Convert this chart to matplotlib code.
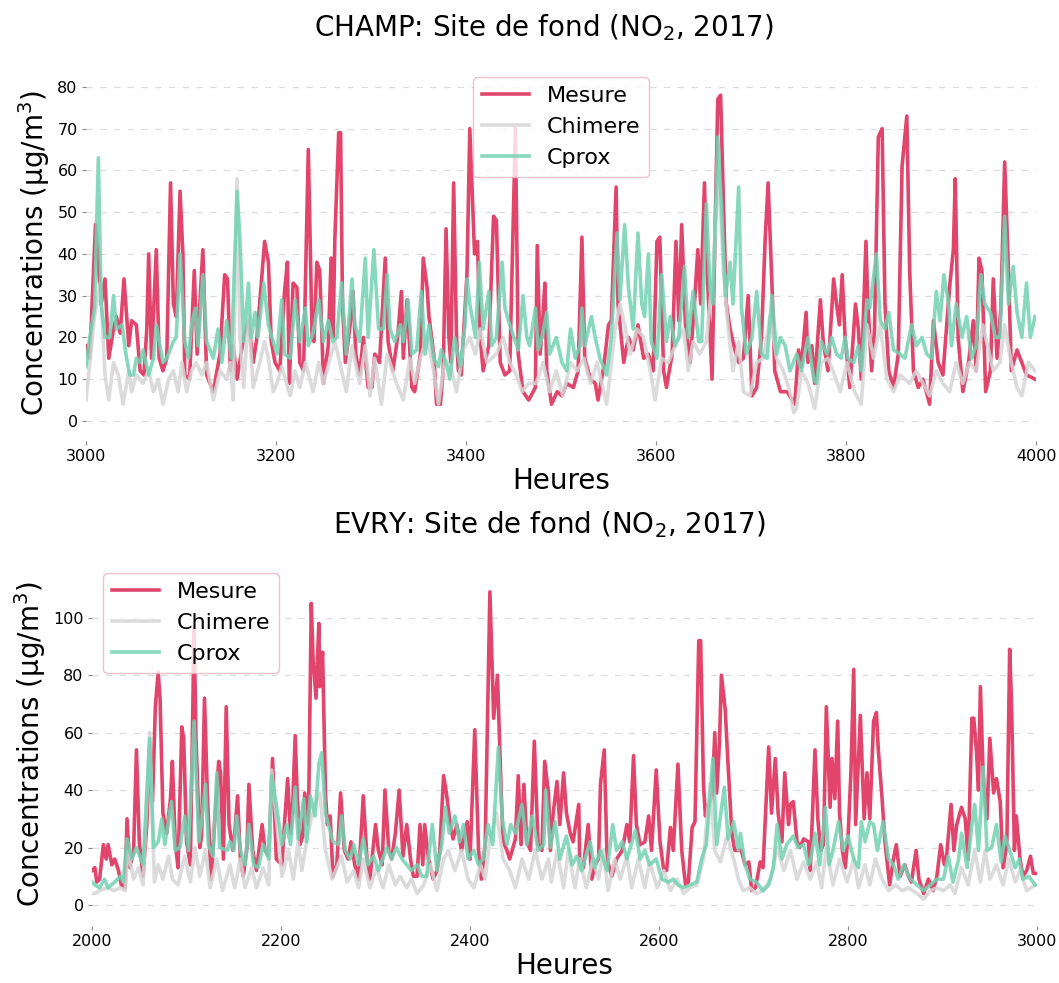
import matplotlib
matplotlib.use('Agg')
import matplotlib.pyplot as plt

plt.rcParams['font.family'] = ['DejaVu Sans']

# CHAMP, heures 3000-4000 : (heure, concentration)
champ_mesure = [
    (3000, 18), (3004, 15), (3010, 47), (3016, 28), (3020, 34), (3024, 15), (3029, 22), (3032, 25),
    (3036, 21), (3040, 34), (3045, 18), (3048, 24), (3053, 23), (3057, 12), (3061, 11), (3064, 22),
    (3066, 40), (3069, 15), (3074, 41), (3077, 15), (3081, 12), (3085, 15), (3089, 57), (3092, 28),
    (3095, 25), (3099, 55), (3102, 40), (3104, 11), (3109, 10), (3114, 36), (3117, 16), (3123, 41),
    (3127, 11), (3134, 7), (3141, 16), (3146, 35), (3149, 34), (3152, 12), (3155, 18), (3159, 10),
    (3166, 20), (3171, 24), (3176, 14), (3180, 20), (3188, 43), (3192, 38), (3195, 19), (3199, 14),
    (3204, 12), (3209, 31), (3212, 38), (3214, 9), (3218, 33), (3222, 32), (3225, 14), (3229, 12),
    (3234, 65), (3238, 20), (3240, 19), (3243, 38), (3246, 36), (3250, 9), (3255, 18), (3258, 39),
    (3260, 20), (3262, 44), (3266, 69), (3268, 69), (3270, 28), (3273, 14), (3278, 23), (3281, 31),
    (3284, 16), (3288, 11), (3292, 20), (3297, 8), (3301, 8), (3304, 16), (3309, 14), (3315, 39),
    (3318, 19), (3323, 12), (3328, 20), (3332, 31), (3334, 15), (3338, 29), (3343, 8), (3346, 7),
    (3352, 16), (3355, 39), (3359, 32), (3361, 25), (3366, 16), (3369, 4), (3373, 4), (3376, 12),
    (3379, 46), (3382, 20), (3384, 14), (3387, 57), (3390, 20), (3392, 12), (3395, 11), (3401, 35),
    (3404, 70), (3407, 52), (3409, 40), (3412, 43), (3415, 20), (3418, 12), (3424, 18), (3429, 49),
    (3432, 48), (3436, 14), (3441, 11), (3446, 12), (3452, 70), (3455, 16), (3460, 7), (3466, 5),
    (3473, 8), (3475, 42), (3478, 16), (3481, 25), (3483, 33), (3485, 12), (3490, 4), (3496, 7),
    (3501, 6), (3506, 9), (3513, 8), (3518, 12), (3522, 44), (3525, 15), (3531, 10), (3536, 9),
    (3539, 5), (3545, 13), (3550, 23), (3553, 24), (3558, 56), (3560, 28), (3566, 14), (3571, 20),
    (3576, 17), (3581, 23), (3587, 15), (3592, 16), (3597, 12), (3601, 43), (3604, 44), (3608, 12),
    (3611, 8), (3617, 16), (3621, 43), (3624, 24), (3627, 47), (3631, 23), (3636, 14), (3641, 30),
    (3644, 41), (3647, 28), (3651, 57), (3653, 40), (3659, 10), (3665, 77), (3668, 78), (3671, 52),
    (3674, 28), (3678, 22), (3683, 17), (3687, 14), (3692, 15), (3697, 30), (3701, 6), (3706, 8),
    (3711, 20), (3715, 44), (3718, 57), (3722, 33), (3725, 12), (3731, 7), (3738, 7), (3746, 4),
    (3750, 17), (3753, 13), (3758, 26), (3760, 14), (3764, 18), (3767, 9), (3773, 29), (3776, 19),
    (3781, 12), (3787, 34), (3790, 28), (3793, 23), (3796, 35), (3799, 20), (3804, 8), (3810, 28),
    (3813, 22), (3816, 10), (3821, 43), (3823, 28), (3827, 12), (3830, 22), (3834, 68), (3838, 70),
    (3841, 28), (3845, 12), (3850, 8), (3855, 16), (3859, 61), (3864, 73), (3867, 36), (3871, 12),
    (3876, 8), (3881, 10), (3888, 4), (3892, 24), (3897, 14), (3902, 11), (3909, 32), (3913, 41),
    (3915, 58), (3918, 20), (3923, 7), (3929, 14), (3934, 24), (3937, 12), (3940, 39), (3943, 36),
    (3947, 7), (3952, 12), (3955, 34), (3959, 15), (3963, 27), (3967, 62), (3971, 36), (3974, 12),
    (3980, 17), (3985, 14), (3990, 11), (3999, 10),
]

champ_chimere = [
    (3000, 5), (3009, 25), (3015, 33), (3020, 11), (3024, 5), (3029, 14), (3034, 11), (3039, 4),
    (3045, 12), (3048, 7), (3053, 11), (3060, 9), (3066, 12), (3071, 7), (3076, 10), (3081, 4),
    (3087, 10), (3092, 12), (3097, 7), (3101, 14), (3106, 7), (3111, 12), (3116, 14), (3122, 11),
    (3127, 14), (3134, 5), (3141, 12), (3148, 10), (3152, 14), (3155, 5), (3159, 58), (3162, 20),
    (3166, 8), (3171, 26), (3176, 8), (3183, 14), (3188, 19), (3192, 15), (3197, 7), (3201, 9),
    (3206, 13), (3215, 6), (3220, 12), (3225, 8), (3231, 14), (3239, 7), (3245, 14), (3250, 9),
    (3257, 15), (3262, 19), (3274, 7), (3280, 18), (3288, 9), (3294, 18), (3299, 6), (3304, 15),
    (3311, 4), (3317, 16), (3327, 9), (3334, 5), (3341, 15), (3346, 9), (3352, 15), (3359, 20),
    (3366, 12), (3371, 4), (3378, 15), (3385, 12), (3390, 7), (3397, 17), (3404, 20), (3410, 16),
    (3415, 22), (3422, 14), (3427, 15), (3432, 16), (3439, 20), (3446, 14), (3453, 11), (3459, 7),
    (3466, 9), (3474, 9), (3481, 14), (3488, 7), (3495, 12), (3502, 6), (3510, 14), (3517, 12),
    (3524, 15), (3531, 9), (3538, 14), (3548, 4), (3557, 22), (3562, 28), (3567, 23), (3573, 16),
    (3580, 22), (3587, 20), (3594, 12), (3599, 5), (3606, 15), (3613, 14), (3622, 19), (3629, 22),
    (3634, 12), (3639, 19), (3646, 16), (3653, 19), (3660, 36), (3666, 60), (3671, 36), (3676, 22),
    (3681, 12), (3687, 19), (3692, 7), (3699, 6), (3706, 14), (3713, 15), (3720, 25), (3727, 15),
    (3734, 12), (3741, 7), (3745, 2), (3748, 3), (3753, 12), (3760, 9), (3767, 3), (3774, 14),
    (3781, 15), (3788, 11), (3794, 7), (3801, 14), (3809, 7), (3816, 4), (3822, 23), (3829, 15),
    (3836, 23), (3843, 10), (3850, 7), (3857, 11), (3867, 9), (3874, 12), (3881, 9), (3888, 6),
    (3895, 12), (3902, 9), (3909, 7), (3916, 14), (3923, 9), (3930, 14), (3937, 12), (3944, 23),
    (3950, 17), (3955, 12), (3962, 14), (3967, 23), (3973, 15), (3980, 8), (3985, 6), (3992, 14),
    (3999, 12),
]

champ_cprox = [
    (3000, 13), (3004, 20), (3009, 27), (3013, 63), (3016, 28), (3020, 20), (3025, 20), (3029, 30),
    (3032, 22), (3038, 23), (3042, 16), (3046, 11), (3050, 11), (3053, 15), (3057, 14), (3060, 17),
    (3066, 11), (3071, 15), (3074, 23), (3077, 19), (3081, 14), (3085, 15), (3092, 19), (3095, 20),
    (3099, 40), (3104, 19), (3108, 15), (3111, 23), (3115, 27), (3118, 18), (3123, 35), (3127, 19),
    (3134, 15), (3139, 22), (3143, 14), (3148, 24), (3153, 15), (3159, 55), (3162, 44), (3166, 19),
    (3171, 33), (3174, 20), (3178, 26), (3181, 20), (3187, 33), (3192, 23), (3197, 19), (3201, 16),
    (3206, 29), (3209, 16), (3215, 15), (3220, 29), (3225, 19), (3231, 27), (3234, 18), (3239, 21),
    (3245, 29), (3250, 19), (3255, 24), (3260, 19), (3264, 20), (3269, 33), (3274, 16), (3280, 34),
    (3283, 23), (3288, 19), (3294, 39), (3297, 20), (3303, 41), (3308, 22), (3313, 22), (3317, 35),
    (3320, 22), (3325, 19), (3331, 23), (3334, 19), (3339, 29), (3343, 16), (3348, 17), (3353, 31),
    (3357, 16), (3361, 23), (3366, 15), (3371, 13), (3374, 17), (3380, 13), (3383, 10), (3388, 20),
    (3394, 13), (3399, 23), (3401, 34), (3404, 28), (3410, 20), (3414, 38), (3418, 22), (3424, 31),
    (3427, 18), (3432, 20), (3438, 38), (3441, 27), (3446, 23), (3452, 19), (3455, 17), (3460, 30),
    (3464, 20), (3467, 18), (3473, 27), (3476, 17), (3480, 20), (3485, 26), (3488, 16), (3495, 20),
    (3501, 14), (3506, 12), (3510, 22), (3515, 15), (3520, 18), (3522, 27), (3525, 18), (3532, 25),
    (3536, 20), (3541, 15), (3548, 11), (3553, 20), (3559, 45), (3562, 29), (3567, 47), (3571, 32),
    (3576, 22), (3581, 45), (3585, 28), (3588, 25), (3592, 40), (3595, 19), (3601, 15), (3606, 35),
    (3611, 19), (3615, 25), (3620, 18), (3624, 20), (3630, 37), (3634, 20), (3639, 31), (3645, 19),
    (3648, 19), (3653, 52), (3657, 31), (3660, 28), (3665, 68), (3669, 51), (3673, 30), (3678, 38),
    (3681, 28), (3687, 56), (3690, 27), (3695, 16), (3701, 20), (3706, 31), (3711, 16), (3717, 15),
    (3722, 30), (3727, 16), (3731, 20), (3736, 18), (3741, 12), (3748, 16), (3753, 12), (3760, 20),
    (3766, 10), (3769, 9), (3774, 19), (3780, 16), (3785, 20), (3790, 16), (3795, 15), (3799, 20),
    (3802, 15), (3808, 14), (3813, 18), (3816, 12), (3822, 29), (3825, 27), (3832, 40), (3836, 24),
    (3841, 22), (3845, 26), (3850, 17), (3857, 16), (3862, 15), (3869, 23), (3874, 18), (3880, 20),
    (3885, 16), (3890, 15), (3895, 31), (3899, 24), (3903, 35), (3908, 28), (3911, 18), (3916, 28),
    (3922, 20), (3927, 25), (3932, 15), (3937, 18), (3942, 35), (3946, 28), (3952, 26), (3957, 20),
    (3962, 20), (3967, 49), (3971, 28), (3976, 37), (3980, 26), (3985, 20), (3990, 33), (3994, 20),
    (3999, 25),
]

# EVRY, heures 2000-3000
evry_mesure = [
    (2000, 12), (2003, 13), (2005, 8), (2008, 9), (2012, 21), (2015, 16), (2017, 21), (2021, 14),
    (2024, 16), (2028, 12), (2031, 7), (2035, 6), (2037, 30), (2040, 13), (2044, 19), (2047, 54),
    (2050, 22), (2054, 10), (2058, 28), (2061, 55), (2064, 36), (2067, 69), (2070, 81), (2072, 72),
    (2075, 32), (2079, 25), (2083, 37), (2085, 50), (2088, 22), (2091, 13), (2095, 62), (2097, 58),
    (2100, 22), (2104, 14), (2108, 97), (2110, 58), (2114, 20), (2116, 24), (2119, 72), (2122, 39),
    (2126, 9), (2130, 30), (2134, 50), (2136, 46), (2139, 16), (2142, 69), (2145, 28), (2149, 19),
    (2151, 25), (2154, 38), (2157, 16), (2160, 10), (2164, 20), (2166, 42), (2170, 19), (2174, 12),
    (2180, 28), (2183, 19), (2187, 17), (2191, 51), (2195, 16), (2201, 14), (2204, 30), (2207, 44),
    (2210, 25), (2212, 32), (2215, 59), (2217, 39), (2220, 21), (2223, 24), (2225, 39), (2229, 28),
    (2232, 105), (2234, 85), (2237, 72), (2240, 98), (2241, 76), (2244, 88), (2247, 39), (2249, 28),
    (2252, 31), (2255, 10), (2259, 14), (2263, 39), (2267, 19), (2271, 16), (2274, 22), (2278, 14),
    (2282, 9), (2287, 38), (2291, 16), (2294, 9), (2300, 28), (2303, 19), (2307, 14), (2310, 40),
    (2314, 19), (2317, 16), (2321, 25), (2325, 40), (2329, 17), (2333, 28), (2337, 16), (2340, 10),
    (2344, 10), (2347, 28), (2350, 14), (2352, 28), (2356, 16), (2361, 9), (2365, 12), (2368, 19),
    (2372, 45), (2375, 39), (2379, 28), (2382, 23), (2386, 28), (2391, 19), (2397, 29), (2400, 16),
    (2405, 61), (2409, 19), (2412, 9), (2416, 21), (2421, 109), (2425, 65), (2429, 80), (2433, 39),
    (2435, 22), (2439, 19), (2442, 16), (2448, 23), (2451, 45), (2454, 21), (2457, 42), (2460, 22),
    (2464, 19), (2468, 57), (2472, 21), (2476, 19), (2479, 50), (2483, 39), (2485, 19), (2488, 32),
    (2492, 43), (2495, 28), (2499, 46), (2502, 32), (2506, 25), (2509, 22), (2515, 35), (2516, 16),
    (2520, 13), (2525, 28), (2529, 9), (2532, 14), (2536, 16), (2538, 42), (2542, 54), (2545, 16),
    (2550, 10), (2555, 16), (2561, 19), (2566, 28), (2569, 22), (2573, 52), (2576, 28), (2580, 21),
    (2585, 22), (2589, 31), (2592, 19), (2597, 47), (2601, 22), (2605, 12), (2608, 12), (2612, 27),
    (2615, 19), (2620, 49), (2624, 19), (2628, 7), (2631, 8), (2635, 27), (2638, 29), (2642, 92),
    (2644, 92), (2647, 42), (2649, 31), (2652, 35), (2656, 37), (2659, 60), (2661, 39), (2664, 57),
    (2666, 80), (2670, 68), (2673, 49), (2677, 25), (2680, 19), (2684, 19), (2687, 19), (2691, 14),
    (2695, 15), (2698, 5), (2702, 6), (2707, 15), (2710, 13), (2716, 55), (2719, 32), (2723, 51),
    (2726, 32), (2730, 22), (2733, 46), (2737, 28), (2739, 35), (2742, 36), (2746, 22), (2749, 20),
    (2753, 23), (2758, 22), (2760, 12), (2765, 54), (2768, 30), (2771, 19), (2774, 21), (2777, 69),
    (2781, 34), (2783, 51), (2786, 37), (2789, 64), (2791, 32), (2794, 19), (2797, 13), (2800, 24),
    (2803, 46), (2806, 82), (2808, 28), (2813, 66), (2817, 30), (2820, 46), (2823, 30), (2827, 64),
    (2830, 67), (2832, 54), (2836, 37), (2839, 22), (2844, 7), (2848, 16), (2851, 21), (2855, 10),
    (2860, 14), (2864, 10), (2867, 8), (2872, 19), (2875, 9), (2880, 4), (2885, 9), (2890, 5),
    (2894, 10), (2898, 21), (2902, 14), (2904, 16), (2909, 35), (2912, 19), (2915, 28), (2920, 34),
    (2924, 30), (2927, 16), (2931, 65), (2933, 65), (2936, 53), (2938, 40), (2940, 76), (2943, 45),
    (2947, 30), (2950, 58), (2954, 39), (2957, 44), (2961, 36), (2964, 13), (2968, 21), (2971, 89),
    (2973, 70), (2976, 19), (2978, 31), (2982, 16), (2985, 10), (2989, 12), (2993, 17), (2996, 11),
    (3000, 11),
]

evry_chimere = [
    (2000, 4), (2003, 4), (2008, 5), (2016, 6), (2023, 5), (2030, 6), (2035, 5), (2038, 19),
    (2044, 9), (2049, 13), (2054, 7), (2061, 60), (2066, 8), (2070, 14), (2075, 9), (2081, 17),
    (2085, 9), (2091, 7), (2098, 17), (2104, 8), (2109, 20), (2114, 10), (2120, 19), (2125, 6),
    (2132, 16), (2138, 5), (2146, 14), (2151, 6), (2157, 16), (2162, 6), (2169, 13), (2174, 6),
    (2181, 13), (2187, 7), (2190, 47), (2195, 30), (2201, 10), (2208, 19), (2213, 9), (2218, 22),
    (2222, 12), (2227, 22), (2232, 30), (2238, 37), (2241, 39), (2247, 19), (2254, 9), (2259, 13),
    (2264, 17), (2270, 8), (2277, 12), (2282, 6), (2287, 16), (2294, 6), (2301, 13), (2308, 6),
    (2314, 14), (2321, 7), (2326, 10), (2333, 6), (2338, 9), (2344, 4), (2351, 7), (2358, 14),
    (2365, 5), (2372, 16), (2377, 19), (2384, 12), (2391, 19), (2398, 9), (2404, 6), (2411, 14),
    (2416, 9), (2421, 23), (2428, 32), (2435, 16), (2442, 12), (2448, 6), (2455, 16), (2462, 9),
    (2469, 19), (2476, 9), (2483, 16), (2486, 8), (2492, 19), (2499, 6), (2504, 19), (2511, 6),
    (2516, 16), (2523, 6), (2530, 16), (2536, 9), (2541, 19), (2546, 5), (2553, 16), (2559, 9),
    (2566, 17), (2571, 6), (2578, 16), (2585, 6), (2590, 15), (2598, 6), (2605, 12), (2612, 5),
    (2619, 9), (2626, 4), (2633, 6), (2640, 7), (2647, 16), (2654, 42), (2659, 19), (2665, 15),
    (2672, 24), (2679, 16), (2684, 9), (2689, 5), (2696, 6), (2703, 4), (2710, 5), (2718, 9),
    (2725, 20), (2732, 12), (2739, 19), (2746, 9), (2753, 15), (2760, 9), (2767, 15), (2772, 6),
    (2777, 20), (2784, 7), (2791, 16), (2799, 8), (2806, 16), (2811, 6), (2818, 14), (2823, 7),
    (2829, 16), (2836, 9), (2843, 5), (2850, 7), (2857, 5), (2864, 6), (2873, 4), (2880, 2),
    (2887, 5), (2894, 6), (2901, 5), (2908, 7), (2913, 4), (2920, 13), (2927, 7), (2934, 19),
    (2940, 8), (2945, 19), (2950, 9), (2957, 14), (2964, 7), (2970, 16), (2977, 8), (2982, 12),
    (2989, 5), (2998, 7),
]

evry_cprox = [
    (2000, 8), (2003, 7), (2008, 6), (2013, 9), (2017, 6), (2024, 8), (2030, 10), (2033, 8),
    (2037, 23), (2042, 16), (2047, 20), (2054, 14), (2061, 58), (2065, 20), (2070, 22), (2074, 30),
    (2077, 21), (2084, 36), (2088, 19), (2093, 20), (2098, 31), (2102, 19), (2108, 64), (2113, 22),
    (2116, 29), (2120, 42), (2123, 21), (2128, 17), (2132, 46), (2135, 20), (2143, 19), (2146, 22),
    (2150, 19), (2153, 31), (2157, 19), (2162, 14), (2166, 28), (2171, 14), (2176, 13), (2181, 21),
    (2187, 16), (2190, 45), (2195, 35), (2201, 21), (2206, 28), (2210, 21), (2215, 41), (2218, 23),
    (2224, 37), (2227, 22), (2231, 38), (2236, 31), (2240, 49), (2243, 53), (2247, 32), (2250, 28),
    (2255, 22), (2261, 21), (2264, 31), (2268, 19), (2273, 16), (2277, 21), (2282, 14), (2287, 23),
    (2292, 14), (2298, 17), (2303, 12), (2312, 20), (2317, 16), (2322, 20), (2328, 16), (2333, 14),
    (2338, 12), (2344, 14), (2349, 10), (2354, 10), (2360, 28), (2365, 12), (2370, 21), (2374, 34),
    (2378, 25), (2384, 31), (2389, 22), (2393, 28), (2398, 16), (2404, 19), (2409, 14), (2414, 16),
    (2419, 28), (2424, 21), (2430, 55), (2434, 30), (2439, 21), (2443, 28), (2448, 25), (2455, 35),
    (2460, 21), (2466, 31), (2472, 19), (2478, 21), (2480, 40), (2485, 20), (2490, 29), (2495, 16),
    (2502, 24), (2508, 14), (2513, 17), (2518, 12), (2527, 22), (2532, 13), (2538, 19), (2545, 12),
    (2551, 28), (2555, 19), (2561, 22), (2566, 16), (2575, 26), (2580, 16), (2585, 19), (2590, 14),
    (2597, 16), (2603, 9), (2610, 8), (2615, 9), (2620, 7), (2626, 6), (2633, 7), (2640, 8),
    (2645, 16), (2650, 21), (2657, 51), (2661, 21), (2669, 41), (2673, 23), (2679, 29), (2684, 19),
    (2686, 25), (2691, 14), (2696, 9), (2703, 8), (2710, 5), (2716, 7), (2721, 13), (2725, 28),
    (2730, 16), (2735, 21), (2742, 24), (2747, 20), (2753, 21), (2758, 14), (2760, 15), (2765, 25),
    (2770, 14), (2776, 34), (2780, 14), (2784, 19), (2790, 29), (2795, 19), (2800, 24), (2806, 16),
    (2811, 13), (2814, 29), (2818, 22), (2823, 29), (2827, 28), (2831, 19), (2837, 29), (2843, 16),
    (2848, 14), (2853, 9), (2859, 14), (2866, 9), (2873, 7), (2880, 5), (2887, 7), (2894, 9),
    (2901, 9), (2906, 17), (2911, 8), (2917, 16), (2920, 25), (2926, 13), (2931, 28), (2934, 35),
    (2938, 19), (2943, 48), (2947, 19), (2952, 20), (2957, 28), (2962, 15), (2966, 24), (2971, 19),
    (2977, 13), (2981, 16), (2985, 9), (2991, 10), (2998, 7),
]

labels = ['Mesure', 'Chimere', 'Cprox']
colors = ['#E2456B', '#D5D5D5', '#72D2B2']
alphas = [1.0, 0.85, 0.85]


def draw(ax, series, xlim, ylim, xticks, yticks, legend_loc, legend_anchor):
    for data, lab, col, a in zip(series, labels, colors, alphas):
        h, v = zip(*data)
        ax.plot(h, v, color=col, lw=2.6, alpha=a, label=lab)
    ax.set_xlim(*xlim)
    ax.set_ylim(*ylim)
    ax.set_xticks(xticks)
    ax.set_yticks(yticks)
    for s in ax.spines.values():
        s.set_visible(False)
    ax.grid(axis='y', ls=(0, (5, 6)), color='#DDDDDD', lw=0.9)
    ax.set_axisbelow(True)
    ax.tick_params(axis='both', labelsize=11.5, length=3, width=0.8, color='#888888', pad=3)
    ax.set_xlabel('Heures', fontsize=20, labelpad=2)
    ax.set_ylabel('Concentrations (µg/m$^3$)', fontsize=20, labelpad=4)
    leg = ax.legend(loc=legend_loc, bbox_to_anchor=legend_anchor, fontsize=16,
                    framealpha=0.8, handlelength=2.1)
    leg.get_frame().set_edgecolor('#E9B3BF')


fig = plt.figure(figsize=(10.59, 9.83), dpi=100)

ax1 = fig.add_axes([0.0812, 0.5514, 0.8971, 0.3815])
draw(ax1, [champ_mesure, champ_chimere, champ_cprox], (3000, 4000), (-4.8, 85),
     range(3000, 4001, 200), range(0, 81, 10), 'upper center', (0.5, 1.0))
fig.text(0.514, 0.9715, 'CHAMP: Site de fond (NO$_2$, 2017)', ha='center', va='center', fontsize=20)

ax2 = fig.add_axes([0.0869, 0.058, 0.8924, 0.3703])
draw(ax2, [evry_mesure, evry_chimere, evry_cprox], (2000, 3000), (-7.3, 119.4),
     range(2000, 3001, 200), range(0, 101, 20), 'upper left', (0.0, 1.0))
fig.text(0.519, 0.466, 'EVRY: Site de fond (NO$_2$, 2017)', ha='center', va='center', fontsize=20)

fig.savefig('out.png', dpi=100)
